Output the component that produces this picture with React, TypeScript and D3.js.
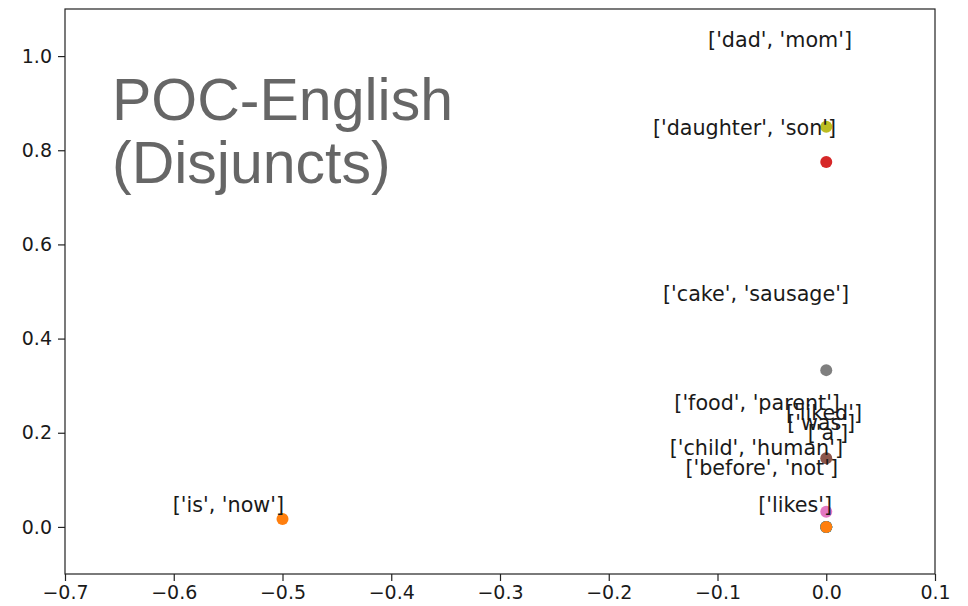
import React, { useEffect, useRef } from "react";
import * as d3 from "d3";

// scatter points (x, y, colour)
const pointX = [0, 0, 0, 0, 0, 0, 0, 0, 0, 0, 0, -0.5];
const pointY = [0, 0, 0, 0, 0.85, 0.775, 0.333, 0.146, 0.032, 0, 0, 0.017];
const pointColor = [
  "#1f77b4", "#2ca02c", "#9467bd", "#17becf",
  "#bcbd22", "#d62728", "#7f7f7f", "#8c564b", "#e377c2",
  "#1f77b4", "#ff7f0e", "#ff7f0e",
];

// word-group labels (right edge x, middle y, in data units)
const labelText = [
  "['dad', 'mom']",
  "['daughter', 'son']",
  "['cake', 'sausage']",
  "['food', 'parent']",
  "['liked']",
  "['was']",
  "['a']",
  "['child', 'human']",
  "['before', 'not']",
  "['likes']",
  "['is', 'now']",
];
const labelX = [0.0237, 0.009, 0.0209, 0.0126, 0.0329, 0.0265, 0.02, 0.0154, 0.0108, 0.0053, -0.4986];
const labelY = [1.034, 0.847, 0.495, 0.263, 0.242, 0.221, 0.2, 0.168, 0.125, 0.047, 0.047];

const xTicks = [-0.7, -0.6, -0.5, -0.4, -0.3, -0.2, -0.1, 0.0, 0.1];
const yTicks = [0.0, 0.2, 0.4, 0.6, 0.8, 1.0];
const titleLines = ["POC-English", "(Disjuncts)"];

const App = () => {
  const svgRef = useRef<SVGSVGElement>(null);

  useEffect(() => {
    const width = 968;
    const height = 606;
    const margin = { top: 9, right: 33, bottom: 32, left: 65 };
    const tickFont = "DejaVu Sans";

    const svg = d3.select(svgRef.current).attr("width", width).attr("height", height);
    svg.selectAll("*").remove();

    const x = d3.scaleLinear().domain([-0.7, 0.1]).range([margin.left, width - margin.right]);
    const y = d3.scaleLinear().domain([-0.1, 1.1]).range([height - margin.bottom, margin.top]);

    const fmt = (v: number) => d3.format(".1f")(v).replace("-", "\u2212");

    const xAxis = svg
      .append("g")
      .attr("transform", `translate(0,${height - margin.bottom})`)
      .call(d3.axisBottom(x).tickValues(xTicks).tickFormat(fmt as any).tickSize(7).tickPadding(5));
    const yAxis = svg
      .append("g")
      .attr("transform", `translate(${margin.left},0)`)
      .call(d3.axisLeft(y).tickValues(yTicks).tickFormat(fmt as any).tickSize(7).tickPadding(6));

    [xAxis, yAxis].forEach((g) => {
      g.select(".domain").remove();
      g.selectAll("line").attr("stroke", "#222").attr("stroke-width", 1.2);
      g.selectAll("text")
        .attr("font-family", tickFont)
        .attr("font-size", 19)
        .attr("fill", "#1a1a1a");
    });

    // frame
    svg
      .append("rect")
      .attr("x", margin.left)
      .attr("y", margin.top)
      .attr("width", width - margin.left - margin.right)
      .attr("height", height - margin.top - margin.bottom)
      .attr("fill", "none")
      .attr("stroke", "#222")
      .attr("stroke-width", 1.2);

    // points
    svg
      .append("g")
      .selectAll("circle")
      .data(pointX.map((v, i) => i))
      .join("circle")
      .attr("cx", (i) => x(pointX[i]))
      .attr("cy", (i) => y(pointY[i]))
      .attr("r", 6)
      .attr("fill", (i) => pointColor[i]);

    // labels
    svg
      .append("g")
      .selectAll("text")
      .data(labelText)
      .join("text")
      .attr("x", (d, i) => x(labelX[i]))
      .attr("y", (d, i) => y(labelY[i]))
      .attr("text-anchor", "end")
      .attr("dominant-baseline", "central")
      .attr("font-family", tickFont)
      .attr("font-size", 20.7)
      .attr("fill", "#1a1a1a")
      .text((d) => d);

    // overlay title
    svg
      .append("text")
      .attr("x", 112)
      .attr("y", 120)
      .attr("font-family", "Liberation Sans, Arial, sans-serif")
      .attr("font-size", 59)
      .attr("fill", "#666666")
      .selectAll("tspan")
      .data(titleLines)
      .join("tspan")
      .attr("x", 112)
      .attr("dy", (d, i) => (i === 0 ? 0 : 63))
      .text((d) => d);
  }, []);

  return (
    <svg
      ref={svgRef}
      style={{ position: "absolute", left: 0, top: 0, display: "block", background: "#fff" }}
    />
  );
};

export default App;
